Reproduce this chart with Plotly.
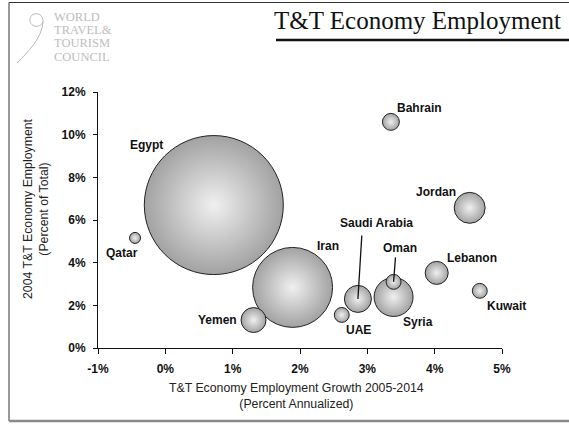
import plotly.graph_objects as go

# ---------------- data ----------------
countries = ["Egypt", "Iran", "Qatar", "Yemen", "UAE", "Saudi Arabia",
             "Syria", "Oman", "Lebanon", "Kuwait", "Jordan", "Bahrain"]
growth_2005_2014 = [0.72, 1.89, -0.45, 1.31, 2.62, 2.86, 3.39, 3.39, 4.03, 4.67, 4.52, 3.35]
share_2004 = [6.70, 2.84, 5.16, 1.31, 1.55, 2.30, 2.39, 3.10, 3.52, 2.68, 6.57, 10.60]
employment_000 = [2700, 894, 17, 87, 31, 102, 212, 31, 74, 31, 134, 40]

x_ticks = [-1, 0, 1, 2, 3, 4, 5]
x_tick_labels = ["-1%", "0%", "1%", "2%", "3%", "4%", "5%"]
y_ticks = [0, 2, 4, 6, 8, 10, 12]
y_tick_labels = ["0%", "2%", "4%", "6%", "8%", "10%", "12%"]

# label offsets (pixels) relative to the bubble
label_shift = {
    "Egypt": (-67, 60), "Iran": (35, 41), "Qatar": (-13, -15), "Yemen": (-36, 0),
    "UAE": (17, -15), "Saudi Arabia": (19, 76), "Syria": (24, -25), "Oman": (6, 34),
    "Lebanon": (35, 15), "Kuwait": (27, -15), "Jordan": (-34, 16), "Bahrain": (29, 14),
}
leaders = {"Saudi Arabia": (4, -65), "Oman": (2, -26)}

W, H = 569, 424
L, R, T, B = 98, 67, 92, 76


def px(x):
    return (x - L) / (W - L - R)


def py(y):
    return (H - B - y) / (H - T - B)


fig = go.Figure()
fig.add_trace(go.Scatter(
    x=growth_2005_2014, y=share_2004, mode="markers", text=countries,
    marker=dict(
        size=employment_000, sizemode="area",
        sizeref=2.0 * max(employment_000) / (139 ** 2),
        color="#a2a2a2",
        gradient=dict(type="radial", color="#f0f0f0"),
        line=dict(color="#222222", width=1),
        opacity=1,
    ),
    cliponaxis=False, hoverinfo="text", showlegend=False,
))

ann = []
lab_font = dict(family="Liberation Sans, Arial", size=12, color="#111111", weight="bold")
for c, xv, yv in zip(countries, growth_2005_2014, share_2004):
    dx, dy = label_shift[c]
    ann.append(dict(x=xv, y=yv, xref="x", yref="y", text=c, showarrow=False,
                    xanchor="center", yanchor="middle",
                    xshift=dx, yshift=dy, font=lab_font))
    if c in leaders:
        ax, ay = leaders[c]
        ann.append(dict(x=xv, y=yv, xref="x", yref="y", text="", showarrow=True,
                        arrowhead=0, arrowwidth=1.3, arrowcolor="#111111",
                        ax=ax, ay=ay, standoff=0, startstandoff=0))

title_font = dict(family="Liberation Sans, Arial", size=12.3, color="#222222")
# y axis title
ann.append(dict(x=px(36), y=py(209), xref="paper", yref="paper",
                xanchor="center", yanchor="middle",
                text="2004 T&T Economy Employment<br>(Percent of Total)",
                textangle=-90, showarrow=False, align="center", font=title_font))
# x axis title
ann.append(dict(x=px(296), y=py(396), xref="paper", yref="paper",
                xanchor="center", yanchor="middle",
                text="T&T Economy Employment Growth 2005-2014<br>(Percent Annualized)",
                showarrow=False, align="center", font=title_font))
# chart title
ann.append(dict(x=px(563), y=py(20.5), xref="paper", yref="paper",
                xanchor="right", yanchor="middle",
                text="T&T Economy Employment", showarrow=False,
                font=dict(family="Liberation Serif, Times New Roman, serif", size=25,
                          color="#111111")))
# logo text
logo_font = dict(family="Liberation Serif, serif", size=12.5, color="#bdbdbd")
for word, yy in zip(["WORLD", "TRAVEL&", "TOURISM", "COUNCIL"], [17, 30, 43, 57]):
    ann.append(dict(x=px(52), y=py(yy), xref="paper", yref="paper",
                    xanchor="left", yanchor="middle",
                    text=word, showarrow=False, font=logo_font))

shapes = [
    # frame
    dict(type="line", xref="paper", yref="paper", x0=px(9), x1=px(569), y0=py(2.5), y1=py(2.5),
         line=dict(color="#333333", width=1)),
    dict(type="line", xref="paper", yref="paper", x0=px(9), x1=px(9), y0=py(2.5), y1=py(421),
         line=dict(color="#333333", width=1)),
    dict(type="line", xref="paper", yref="paper", x0=px(9), x1=px(569), y0=py(421), y1=py(421),
         line=dict(color="#8a8a8a", width=2.5)),
    # title underline
    dict(type="line", xref="paper", yref="paper", x0=px(276), x1=px(569), y0=py(40), y1=py(40),
         line=dict(color="#111111", width=2.5)),
    # logo swoosh
    dict(type="path", xref="paper", yref="paper",
         path=(f"M {px(43)} {py(22)} C {px(44)} {py(12)}, {px(31)} {py(11)}, {px(30)} {py(19)} "
               f"C {px(29)} {py(27)}, {px(40)} {py(29)}, {px(43)} {py(22)} "
               f"C {px(42)} {py(38)}, {px(28)} {py(52)}, {px(17)} {py(63)}"),
         line=dict(color="#b8b8b8", width=1)),
]

axis_font = dict(family="Liberation Sans, Arial", size=12, color="#111111", weight="bold")
fig.update_layout(
    width=W, height=H,
    margin=dict(l=L, r=R, t=T, b=B, pad=0),
    paper_bgcolor="white", plot_bgcolor="white",
    annotations=ann, shapes=shapes,
    xaxis=dict(range=[-1, 5], tickvals=x_ticks, ticktext=x_tick_labels,
               showgrid=False, zeroline=False, showline=True, linecolor="#111111",
               linewidth=1, ticks="outside", ticklen=5, tickcolor="#111111",
               tickfont=axis_font, ticklabelstandoff=5, fixedrange=True),
    yaxis=dict(range=[0, 12], tickvals=y_ticks, ticktext=y_tick_labels,
               showgrid=False, zeroline=False, showline=True, linecolor="#111111",
               linewidth=1, ticks="outside", ticklen=4, tickcolor="#111111",
               tickfont=axis_font, ticklabelstandoff=5, fixedrange=True),
)

fig.write_html("out.html", config={"displayModeBar": False},
               post_script="document.body.style.margin='0';document.body.style.padding='0';")
